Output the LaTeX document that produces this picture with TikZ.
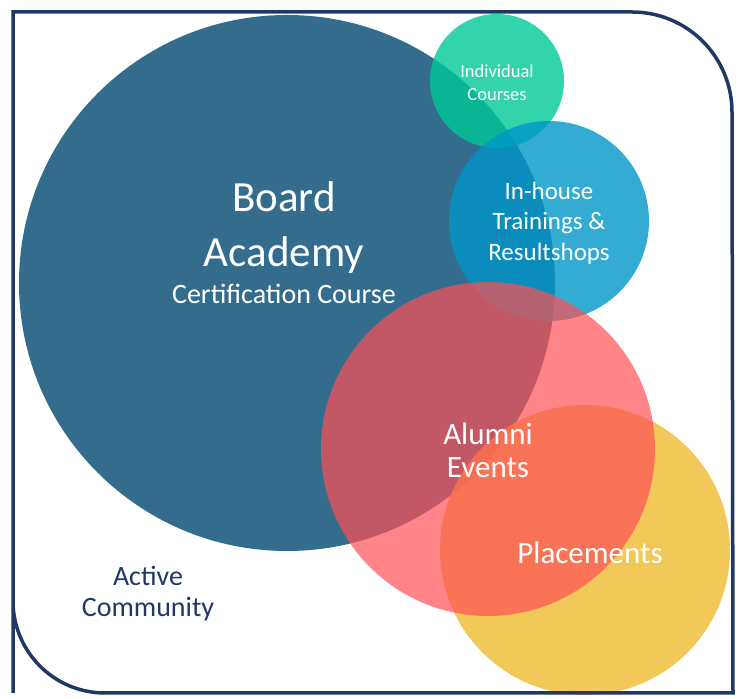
\documentclass[tikz,border=0pt]{standalone}
\usepackage{fontspec}
\setmainfont{Carlito}
\usepackage{tikz}
\usetikzlibrary{positioning}
\definecolor{boardblue}{RGB}{51,108,141}
\definecolor{coursegreen}{RGB}{0,200,150}
\definecolor{houseblue}{RGB}{0,150,200}
\definecolor{alumnipink}{RGB}{255,80,85}
\definecolor{placeyellow}{RGB}{240,190,60}
\definecolor{framenavy}{RGB}{31,56,100}
\tikzstyle{bubble} = [circle, draw=none, inner sep=0pt]
\tikzstyle{lbl} = [text=white, align=center, inner sep=0pt]
\tikzstyle{frame} = [line width=3.5pt, draw=framenavy]

\begin{document}
\begin{tikzpicture}[x=1pt, y=1pt]
		\useasboundingbox (0,0) rectangle (740,699);
		% circles, back to front
		\node (Board) [bubble, fill=boardblue, minimum size=536pt] at (287,416) {};
		\node (Courses) [bubble, fill=coursegreen, fill opacity=0.8, minimum size=134pt] at (497,618) {};
		\node (Inhouse) [bubble, fill=houseblue, fill opacity=0.8, minimum size=200pt] at (549,478) {};
		\node (Placements) [bubble, fill=placeyellow, fill opacity=0.85, minimum size=290pt] at (585,149) {};
		\node (Alumni) [bubble, fill=alumnipink, fill opacity=0.7, minimum size=334pt] at (488,250) {};
		
		% labels
		\node (BoardText) [lbl, font=\fontsize{43}{55}\selectfont] at (284,456) {Board\\Academy\\[-18pt]{\fontsize{28}{34}\selectfont Certification Course}};
		\node (CoursesText) [lbl, font=\fontsize{18.5}{23}\selectfont] at (497,616) {Individual\\Courses};
		\node (InhouseText) [lbl, font=\fontsize{25}{30.5}\selectfont] at (549,476) {In-house\\Trainings \&\\Resultshops};
		\node (AlumniText) [lbl, font=\fontsize{31}{33}\selectfont] at (488,249) {Alumni\\Events};
		\node (PlacementsText) [lbl, font=\fontsize{31}{33}\selectfont] at (590,146) {Placements};
		\node (CommunityText) [lbl, text=framenavy, font=\fontsize{28}{31}\selectfont] at (148,105) {Active\\Community};
		
		% outer frame
		\draw [frame] (13,6) -- (13,600) -- (13,687) -- (632,687) arc (90:0:100) -- (733,6) -- (105,6) arc (270:180:92) -- (13,98);
\end{tikzpicture}
\end{document}
